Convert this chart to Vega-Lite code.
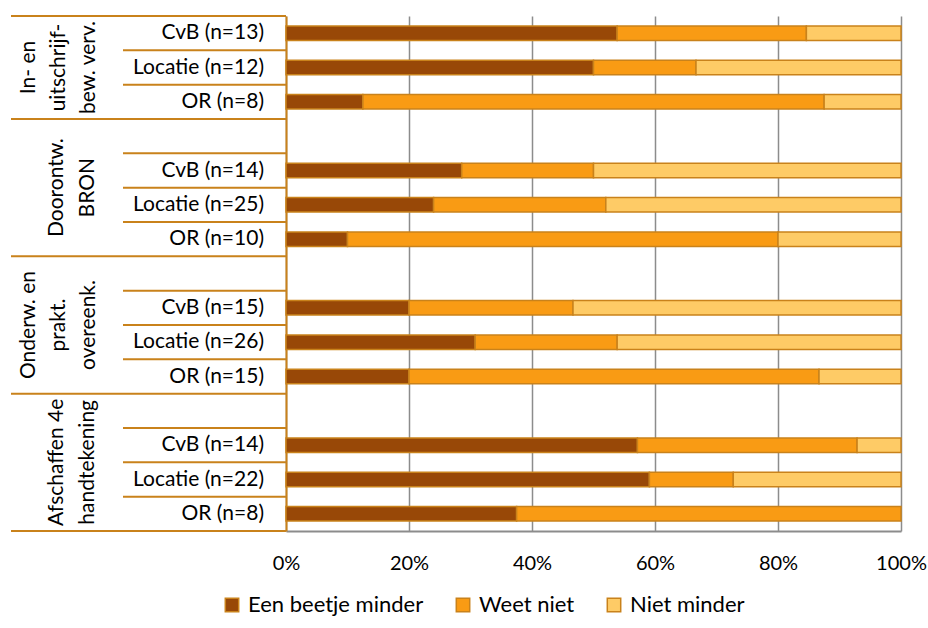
{
  "$schema": "https://vega.github.io/schema/vega-lite/v6.json",
  "padding": {"left": 10, "top": 15, "right": 0, "bottom": 0},
  "spacing": 0,
  "bounds": "flush",
  "config": {
    "font": "Lato",
    "view": {"stroke": null},
    "text": {"font": "Lato", "fontSize": 21, "color": "#000000"}
  },
  "datasets": {
    "rijen": [
      {"groep": "In- en\nuitschrijf-\nbew. verv.", "categorie": "CvB (n=13)", "rij": "G1 | CvB (n=13)"},
      {"groep": "In- en\nuitschrijf-\nbew. verv.", "categorie": "Locatie (n=12)", "rij": "G1 | Locatie (n=12)"},
      {"groep": "In- en\nuitschrijf-\nbew. verv.", "categorie": "OR (n=8)", "rij": "G1 | OR (n=8)"},
      {"groep": "Doorontw.\nBRON", "categorie": "", "rij": "G2 | "},
      {"groep": "Doorontw.\nBRON", "categorie": "CvB (n=14)", "rij": "G2 | CvB (n=14)"},
      {"groep": "Doorontw.\nBRON", "categorie": "Locatie (n=25)", "rij": "G2 | Locatie (n=25)"},
      {"groep": "Doorontw.\nBRON", "categorie": "OR (n=10)", "rij": "G2 | OR (n=10)"},
      {"groep": "Onderw. en\nprakt.\novereenk.", "categorie": "", "rij": "G3 | "},
      {"groep": "Onderw. en\nprakt.\novereenk.", "categorie": "CvB (n=15)", "rij": "G3 | CvB (n=15)"},
      {"groep": "Onderw. en\nprakt.\novereenk.", "categorie": "Locatie (n=26)", "rij": "G3 | Locatie (n=26)"},
      {"groep": "Onderw. en\nprakt.\novereenk.", "categorie": "OR (n=15)", "rij": "G3 | OR (n=15)"},
      {"groep": "Afschaffen 4e\nhandtekening", "categorie": "", "rij": "G4 | "},
      {"groep": "Afschaffen 4e\nhandtekening", "categorie": "CvB (n=14)", "rij": "G4 | CvB (n=14)"},
      {"groep": "Afschaffen 4e\nhandtekening", "categorie": "Locatie (n=22)", "rij": "G4 | Locatie (n=22)"},
      {"groep": "Afschaffen 4e\nhandtekening", "categorie": "OR (n=8)", "rij": "G4 | OR (n=8)"}
    ],
    "balken": [
      {"rij": "G1 | CvB (n=13)", "antwoord": "Een beetje minder", "aantal": 7},
      {"rij": "G1 | CvB (n=13)", "antwoord": "Weet niet", "aantal": 4},
      {"rij": "G1 | CvB (n=13)", "antwoord": "Niet minder", "aantal": 2},
      {"rij": "G1 | Locatie (n=12)", "antwoord": "Een beetje minder", "aantal": 6},
      {"rij": "G1 | Locatie (n=12)", "antwoord": "Weet niet", "aantal": 2},
      {"rij": "G1 | Locatie (n=12)", "antwoord": "Niet minder", "aantal": 4},
      {"rij": "G1 | OR (n=8)", "antwoord": "Een beetje minder", "aantal": 1},
      {"rij": "G1 | OR (n=8)", "antwoord": "Weet niet", "aantal": 6},
      {"rij": "G1 | OR (n=8)", "antwoord": "Niet minder", "aantal": 1},
      {"rij": "G2 | CvB (n=14)", "antwoord": "Een beetje minder", "aantal": 4},
      {"rij": "G2 | CvB (n=14)", "antwoord": "Weet niet", "aantal": 3},
      {"rij": "G2 | CvB (n=14)", "antwoord": "Niet minder", "aantal": 7},
      {"rij": "G2 | Locatie (n=25)", "antwoord": "Een beetje minder", "aantal": 6},
      {"rij": "G2 | Locatie (n=25)", "antwoord": "Weet niet", "aantal": 7},
      {"rij": "G2 | Locatie (n=25)", "antwoord": "Niet minder", "aantal": 12},
      {"rij": "G2 | OR (n=10)", "antwoord": "Een beetje minder", "aantal": 1},
      {"rij": "G2 | OR (n=10)", "antwoord": "Weet niet", "aantal": 7},
      {"rij": "G2 | OR (n=10)", "antwoord": "Niet minder", "aantal": 2},
      {"rij": "G3 | CvB (n=15)", "antwoord": "Een beetje minder", "aantal": 3},
      {"rij": "G3 | CvB (n=15)", "antwoord": "Weet niet", "aantal": 4},
      {"rij": "G3 | CvB (n=15)", "antwoord": "Niet minder", "aantal": 8},
      {"rij": "G3 | Locatie (n=26)", "antwoord": "Een beetje minder", "aantal": 8},
      {"rij": "G3 | Locatie (n=26)", "antwoord": "Weet niet", "aantal": 6},
      {"rij": "G3 | Locatie (n=26)", "antwoord": "Niet minder", "aantal": 12},
      {"rij": "G3 | OR (n=15)", "antwoord": "Een beetje minder", "aantal": 3},
      {"rij": "G3 | OR (n=15)", "antwoord": "Weet niet", "aantal": 10},
      {"rij": "G3 | OR (n=15)", "antwoord": "Niet minder", "aantal": 2},
      {"rij": "G4 | CvB (n=14)", "antwoord": "Een beetje minder", "aantal": 8},
      {"rij": "G4 | CvB (n=14)", "antwoord": "Weet niet", "aantal": 5},
      {"rij": "G4 | CvB (n=14)", "antwoord": "Niet minder", "aantal": 1},
      {"rij": "G4 | Locatie (n=22)", "antwoord": "Een beetje minder", "aantal": 13},
      {"rij": "G4 | Locatie (n=22)", "antwoord": "Weet niet", "aantal": 3},
      {"rij": "G4 | Locatie (n=22)", "antwoord": "Niet minder", "aantal": 6},
      {"rij": "G4 | OR (n=8)", "antwoord": "Een beetje minder", "aantal": 3},
      {"rij": "G4 | OR (n=8)", "antwoord": "Weet niet", "aantal": 5}
    ]
  },
  "hconcat": [
    {
      "width": 275,
      "height": 515,
      "data": {"name": "rijen"},
      "transform": [
        {"window": [{"op": "row_number", "as": "idx"}], "groupby": ["groep"]},
        {"joinaggregate": [{"op": "count", "as": "n"}], "groupby": ["groep"]},
        {"calculate": "length(split(datum.groep, '\\n'))", "as": "regels"}
      ],
      "layer": [
        {
          "transform": [{"filter": "datum.idx == 1"}],
          "mark": {"type": "rule", "color": "#C9821B", "strokeWidth": 2},
          "encoding": {
            "x": {"datum": 0, "type": "quantitative", "scale": {"domain": [0, 275], "nice": false, "zero": false}, "axis": null},
            "x2": {"datum": 275},
            "y": {"field": "rij", "type": "nominal", "bandPosition": 0, "scale": {"type": "band", "domain": ["G1 | CvB (n=13)", "G1 | Locatie (n=12)", "G1 | OR (n=8)", "G2 | ", "G2 | CvB (n=14)", "G2 | Locatie (n=25)", "G2 | OR (n=10)", "G3 | ", "G3 | CvB (n=15)", "G3 | Locatie (n=26)", "G3 | OR (n=15)", "G4 | ", "G4 | CvB (n=14)", "G4 | Locatie (n=22)", "G4 | OR (n=8)"], "paddingInner": 0, "paddingOuter": 0}, "axis": null}
          }
        },
        {
          "transform": [{"filter": "datum.rij == 'G4 | OR (n=8)'"}],
          "mark": {"type": "rule", "color": "#C9821B", "strokeWidth": 2},
          "encoding": {
            "x": {"datum": 0, "type": "quantitative"},
            "x2": {"datum": 275},
            "y": {"field": "rij", "type": "nominal", "bandPosition": 1}
          }
        },
        {
          "transform": [{"filter": "datum.idx > 1"}],
          "mark": {"type": "rule", "color": "#C9821B", "strokeWidth": 2},
          "encoding": {
            "x": {"datum": 112, "type": "quantitative"},
            "x2": {"datum": 275},
            "y": {"field": "rij", "type": "nominal", "bandPosition": 0}
          }
        },
        {
          "transform": [{"filter": "datum.categorie != ''"}],
          "mark": {"type": "text", "align": "right", "baseline": "middle", "fontSize": 21},
          "encoding": {
            "x": {"datum": 253, "type": "quantitative"},
            "y": {"field": "rij", "type": "nominal", "bandPosition": 0.5},
            "text": {"field": "categorie"}
          }
        },
        {
          "transform": [{"filter": "indexof(datum.categorie, 'Locatie') == 0 && datum.n == 3 && datum.regels == 3"}],
          "mark": {"type": "text", "align": "center", "baseline": "bottom", "angle": 270, "fontSize": 21, "lineHeight": 30, "lineBreak": "\n"},
          "encoding": {
            "x": {"datum": 28, "type": "quantitative"},
            "y": {"field": "rij", "type": "nominal", "bandPosition": 0.5},
            "text": {"field": "groep"}
          }
        },
        {
          "transform": [{"filter": "indexof(datum.categorie, 'Locatie') == 0 && datum.n == 4 && datum.regels == 3"}],
          "mark": {"type": "text", "align": "center", "baseline": "bottom", "angle": 270, "fontSize": 21, "lineHeight": 30, "lineBreak": "\n"},
          "encoding": {
            "x": {"datum": 28, "type": "quantitative"},
            "y": {"field": "rij", "type": "nominal", "bandPosition": 0},
            "text": {"field": "groep"}
          }
        },
        {
          "transform": [{"filter": "indexof(datum.categorie, 'Locatie') == 0 && datum.n == 4 && datum.regels == 2"}],
          "mark": {"type": "text", "align": "center", "baseline": "bottom", "angle": 270, "fontSize": 21, "lineHeight": 31, "lineBreak": "\n"},
          "encoding": {
            "x": {"datum": 56, "type": "quantitative"},
            "y": {"field": "rij", "type": "nominal", "bandPosition": 0},
            "text": {"field": "groep"}
          }
        }
      ]
    },
    {
      "width": 615,
      "height": 515,
      "data": {"name": "balken"},
      "transform": [
        {"calculate": "indexof(['Een beetje minder', 'Weet niet', 'Niet minder'], datum.antwoord)", "as": "volgorde"}
      ],
      "mark": {"type": "bar", "height": {"band": 0.42}, "stroke": "#C9821B", "strokeWidth": 1.5},
      "encoding": {
        "y": {
          "field": "rij", "type": "nominal",
          "scale": {"type": "band", "domain": ["G1 | CvB (n=13)", "G1 | Locatie (n=12)", "G1 | OR (n=8)", "G2 | ", "G2 | CvB (n=14)", "G2 | Locatie (n=25)", "G2 | OR (n=10)", "G3 | ", "G3 | CvB (n=15)", "G3 | Locatie (n=26)", "G3 | OR (n=15)", "G4 | ", "G4 | CvB (n=14)", "G4 | Locatie (n=22)", "G4 | OR (n=8)"], "paddingInner": 0, "paddingOuter": 0},
          "axis": {"labels": false, "ticks": false, "title": null, "domainColor": "#C9821B", "domainWidth": 2, "grid": false}
        },
        "x": {
          "field": "aantal", "type": "quantitative", "stack": "normalize",
          "scale": {"domain": [0, 1], "nice": false},
          "axis": {
            "values": [0, 0.2, 0.4, 0.6, 0.8, 1], "format": "%", "title": null,
            "ticks": false, "domainColor": "#8C8C8C", "domainWidth": 2,
            "grid": true, "gridColor": "#8C8C8C", "gridWidth": 1.5,
            "labelFlush": false, "labelOverlap": false,
            "labelFont": "Lato", "labelFontSize": 20, "labelColor": "#000000", "labelPadding": 22
          }
        },
        "order": {"field": "volgorde", "type": "quantitative", "sort": "ascending"},
        "color": {
          "field": "antwoord", "type": "nominal",
          "scale": {"domain": ["Een beetje minder", "Weet niet", "Niet minder"], "range": ["#984807", "#F99B14", "#FECB66"]},
          "legend": {
            "title": null, "orient": "none", "direction": "horizontal", "legendX": 210, "legendY": 578,
            "symbolType": "square", "symbolSize": 180, "symbolStrokeColor": "#C9821B", "symbolStrokeWidth": 1.5,
            "labelFont": "Lato", "labelFontSize": 22, "labelColor": "#000000", "labelOffset": 5, "labelLimit": 400, "columnPadding": 28
          }
        }
      }
    }
  ]
}
